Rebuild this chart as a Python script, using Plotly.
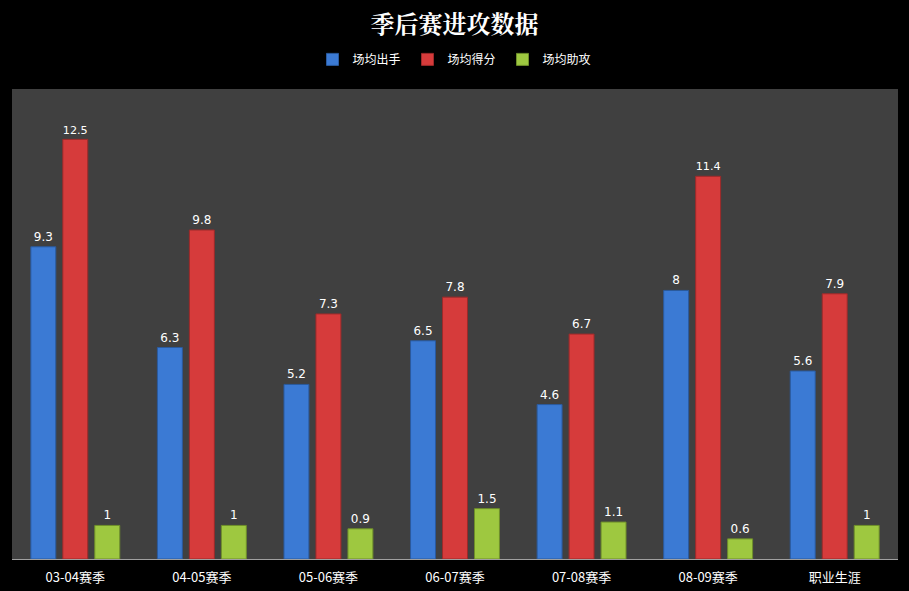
import plotly.graph_objects as go

categories = ["03-04赛季", "04-05赛季", "05-06赛季", "06-07赛季", "07-08赛季", "08-09赛季", "职业生涯"]
shots = [9.3, 6.3, 5.2, 6.5, 4.6, 8, 5.6]
points = [12.5, 9.8, 7.3, 7.8, 6.7, 11.4, 7.9]
assists = [1, 1, 0.9, 1.5, 1.1, 0.6, 1]
series_names = ["场均出手", "场均得分", "场均助攻"]

colors = ["#3b7ad4", "#d63b3b", "#9ec840"]
edges = ["#2a5a9e", "#9c2a2a", "#6f8f2a"]

fig = go.Figure()
for name, vals, c, e in zip(series_names, [shots, points, assists], colors, edges):
    fig.add_trace(go.Bar(
        x=categories, y=vals, name=name,
        marker=dict(color=c, line=dict(color=e, width=1)),
        text=[f"{v:g}" for v in vals], textposition="outside",
        textfont=dict(color="white", size=12, family="DejaVu Sans"),
        cliponaxis=False,
    ))

fig.update_layout(
    width=909, height=591,
    paper_bgcolor="#000000", plot_bgcolor="#404040",
    margin=dict(l=12, r=11, t=89, b=32),
    barmode="group", bargap=0.242, bargroupgap=0.22,
    title=dict(text="<b>季后赛进攻数据</b>", x=0.5, xanchor="center", y=0.958, yanchor="middle",
               font=dict(family="Noto Serif CJK SC, Noto Sans CJK SC, serif", size=24, color="white")),
    legend=dict(orientation="h", x=0.5, xanchor="center", y=1.063, yanchor="middle",
                font=dict(color="white", size=12, family="Noto Sans CJK SC"),
                itemwidth=30, entrywidth=50, entrywidthmode="pixels",
                bgcolor="rgba(0,0,0,0)", tracegroupgap=0),
    showlegend=True,
    xaxis=dict(showgrid=False, showline=True, linecolor="#a0a0a0", linewidth=1,
               tickfont=dict(color="white", size=13, family="Noto Sans CJK SC"),
               ticks="", ticklen=0, ticklabelstandoff=6, automargin=False),
    yaxis=dict(range=[0, 14], showgrid=False, showticklabels=False, zeroline=False, ticks="",
               automargin=False),
    font=dict(family="Noto Sans CJK SC"),
)

fig.write_html("out.html", config={"displayModeBar": False},
               post_script="document.body.style.margin='0';document.body.style.background='#000';")
